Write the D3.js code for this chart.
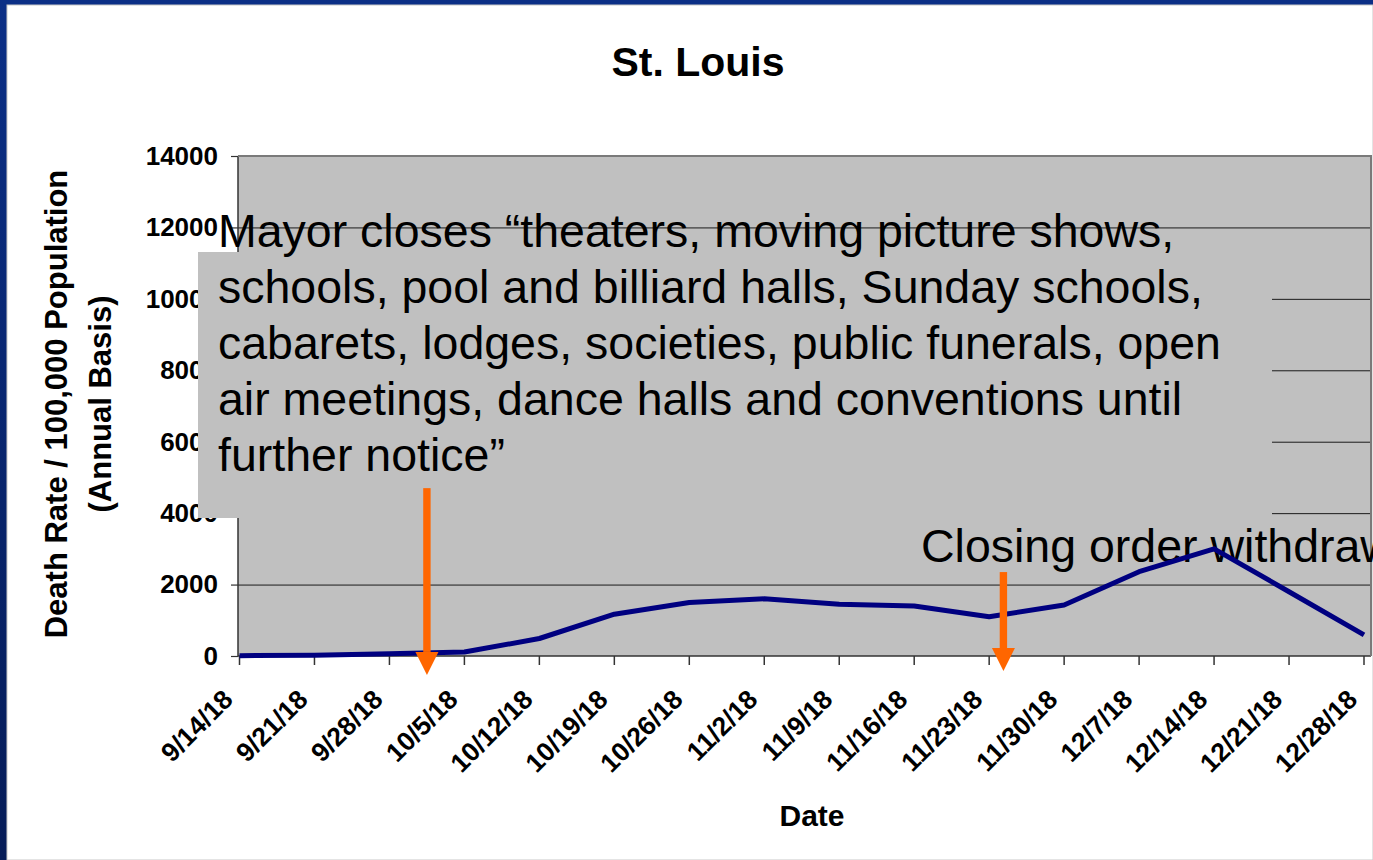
<!DOCTYPE html>
<html>
<head>
<meta charset="utf-8">
<script src="https://cdn.jsdelivr.net/npm/d3@7"></script>
<style>
	body{ margin:0; overflow:hidden; background:#fff; }
	text{ font-family:"Liberation Sans", Arial, sans-serif; }
</style>
</head>
<body>
<svg id="chart" width="1373" height="860"></svg>
<script>
// St. Louis weekly death rate, autumn 1918
var dates = ['9/14/18','9/21/18','9/28/18','10/5/18','10/12/18','10/19/18','10/26/18','11/2/18',
			'11/9/18','11/16/18','11/23/18','11/30/18','12/7/18','12/14/18','12/21/18','12/28/18'];
var deathRate = [10, 20, 60, 110, 490, 1170, 1500, 1600, 1450, 1400, 1100, 1430, 2360, 3000, 1800, 590];
var yTicks = [0, 2000, 4000, 6000, 8000, 10000, 12000, 14000];

var noteLines = ['Mayor closes \u201ctheaters, moving picture shows,',
				'schools, pool and billiard halls, Sunday schools,',
				'cabarets, lodges, societies, public funerals, open',
				'air meetings, dance halls and conventions until',
				'further notice\u201d'];
var closingNote = 'Closing order withdrawn';
// arrows : position in week index, top / tip in data units
var arrows = [ {at:2.5, top:4700, tip:-530}, {at:10.19, top:2350, tip:-420} ];

var W = 1373, H = 860
	,plot = { left:238, top:156, right:1371, bottom:656 };

var svg = d3.select('#chart');

// slide background
var grad = svg.append('defs').append('linearGradient')
	.attr('id','slideBg').attr('x1',0).attr('y1',0).attr('x2',0).attr('y2',1);
grad.append('stop').attr('offset','0%').attr('stop-color','#0b2f86');
grad.append('stop').attr('offset','100%').attr('stop-color','#061c58');
svg.append('rect').attr('width',W).attr('height',H).attr('fill','url(#slideBg)');
svg.append('rect').attr('x',7).attr('y',5).attr('width',W-7).attr('height',H-5)
	.attr('fill','#fff').attr('stroke','#c8c8c8').attr('stroke-width',1);

var x = d3.scaleLinear().domain([0, dates.length-1]).range([239.5, 1364]);
var y = d3.scaleLinear().domain([0, 14000]).range([plot.bottom, plot.top]);

svg.append('rect')
	.attr('x',plot.left).attr('y',plot.top)
	.attr('width',plot.right-plot.left).attr('height',plot.bottom-plot.top)
	.attr('fill','#c0c0c0');

// grid + y labels
var yAxis = d3.axisLeft(y).tickValues(yTicks).tickSize(0).tickPadding(20).tickFormat(d3.format('d'));
var gY = svg.append('g').attr('transform','translate('+plot.left+',0)').call(yAxis);
gY.select('.domain').remove();
gY.selectAll('text').attr('font-size',26).attr('font-weight','bold').attr('fill','#000')
	.attr('font-family','"Liberation Sans", Arial, sans-serif');
gY.selectAll('.tick').append('line')
	.attr('x1',0).attr('x2',plot.right-plot.left)
	.attr('stroke','#1a1a1a').attr('stroke-width',1)
	.attr('opacity',function(d){ return (d==0||d==14000) ? 0 : 1; });
gY.selectAll('.tick').append('line')
	.attr('x1',-7).attr('x2',0).attr('stroke','#333').attr('stroke-width',1.2);

// x ticks and rotated labels
var gX = svg.append('g');
var xt = gX.selectAll('g').data(dates).enter().append('g')
	.attr('transform',function(d,i){ return 'translate('+x(i)+','+plot.bottom+')'; });
xt.append('line').attr('y1',0).attr('y2',9).attr('stroke','#333').attr('stroke-width',1.5);
xt.append('text')
	.attr('transform','translate(-5,45) rotate(-45)')
	.attr('text-anchor','end')
	.attr('font-size',26.5).attr('font-weight','bold')
	.text(function(d){ return d; });

// axis lines
svg.append('line').attr('x1',plot.left).attr('x2',plot.left).attr('y1',plot.top).attr('y2',plot.bottom)
	.attr('stroke','#333').attr('stroke-width',1.5);
svg.append('line').attr('x1',plot.left).attr('x2',plot.right).attr('y1',plot.bottom).attr('y2',plot.bottom)
	.attr('stroke','#333').attr('stroke-width',1.5);
svg.append('path')
	.attr('d','M'+plot.left+','+plot.top+'H'+plot.right+'V'+plot.bottom)
	.attr('fill','none').attr('stroke','#7a7a7a').attr('stroke-width',2);

// titles
svg.append('text').attr('x',698).attr('y',76).attr('text-anchor','middle')
	.attr('font-size',41).attr('font-weight','bold').text('St. Louis');
svg.append('text').attr('x',812).attr('y',826).attr('text-anchor','middle')
	.attr('font-size',30).attr('font-weight','bold').text('Date');
var yt = svg.append('g').attr('transform','translate(0,404) rotate(-90)');
yt.append('text').attr('x',0).attr('y',67).attr('text-anchor','middle')
	.attr('font-size',31).attr('font-weight','bold').text('Death Rate / 100,000 Population');
yt.append('text').attr('x',0).attr('y',111).attr('text-anchor','middle')
	.attr('font-size',31).attr('font-weight','bold').text('(Annual Basis)');

// annotation box
svg.append('rect').attr('x',198).attr('y',252).attr('width',1074).attr('height',266).attr('fill','#c0c0c0');
svg.append('g').selectAll('text').data(noteLines).enter().append('text')
	.attr('x',218).attr('y',function(d,i){ return 247 + i*56; })
	.attr('font-size',46.5).attr('fill','#000')
	.text(function(d){ return d; });
svg.append('text').attr('x',921).attr('y',562).attr('font-size',46.5).attr('fill','#000').text(closingNote);

// series line
var line = d3.line().x(function(d,i){ return x(i); }).y(function(d){ return y(d); });
svg.append('path').datum(deathRate)
	.attr('d',line)
	.attr('fill','none').attr('stroke','#000080').attr('stroke-width',5)
	.attr('stroke-linejoin','round');

// orange arrows
var ga = svg.append('g').selectAll('g').data(arrows).enter().append('g');
ga.append('rect')
	.attr('x',function(d){ return x(d.at)-3.7; }).attr('width',7.4)
	.attr('y',function(d){ return y(d.top); })
	.attr('height',function(d){ return y(d.tip)-23 - y(d.top); })
	.attr('fill','#ff6600');
ga.append('path')
	.attr('d',function(d){
		var cx = x(d.at), t = y(d.tip);
		return 'M'+(cx-11.5)+','+(t-23)+'L'+(cx+11.5)+','+(t-23)+'L'+cx+','+t+'Z';
	})
	.attr('fill','#ff6600');
</script>
</body>
</html>
